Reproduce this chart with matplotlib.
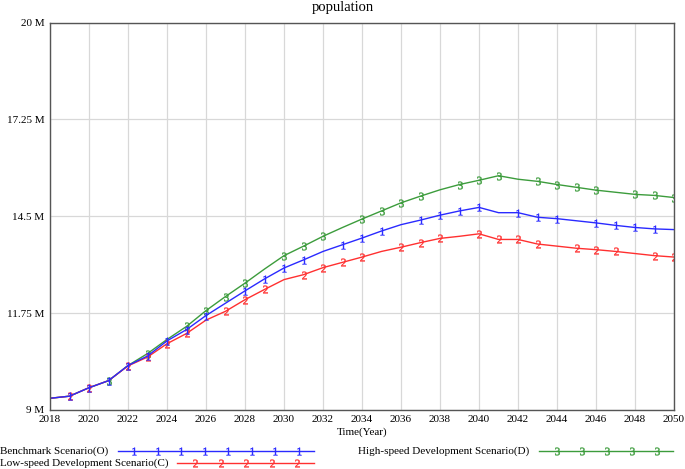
#!/usr/bin/env python3
import numpy as np
import matplotlib
matplotlib.use('Agg')
import matplotlib.pyplot as plt
from matplotlib.lines import Line2D

plt.rcParams['font.family'] = ['Liberation Serif', 'DejaVu Serif']
plt.rcParams['mathtext.fontset'] = 'custom'
plt.rcParams['mathtext.rm'] = 'Liberation Serif'

YEARS = list(range(2018, 2051))

BENCHMARK = [9.33, 9.39, 9.63, 9.83, 10.26, 10.53, 10.96, 11.28, 11.68, 12.03,
             12.38, 12.72, 13.03, 13.26, 13.50, 13.69, 13.88, 14.08, 14.26, 14.39,
             14.53, 14.65, 14.75, 14.60, 14.60, 14.47, 14.43, 14.37, 14.31, 14.24,
             14.18, 14.14, 14.12]
LOW_SPEED = [9.33, 9.39, 9.63, 9.83, 10.25, 10.50, 10.88, 11.17, 11.55, 11.80,
             12.13, 12.42, 12.70, 12.84, 13.04, 13.19, 13.34, 13.50, 13.62, 13.75,
             13.87, 13.93, 14.00, 13.84, 13.84, 13.71, 13.65, 13.59, 13.55, 13.50,
             13.44, 13.38, 13.34]
HIGH_SPEED = [9.33, 9.39, 9.63, 9.83, 10.26, 10.60, 11.00, 11.37, 11.82, 12.22,
              12.60, 13.00, 13.38, 13.65, 13.93, 14.18, 14.42, 14.65, 14.88, 15.07,
              15.25, 15.40, 15.52, 15.65, 15.55, 15.49, 15.40, 15.32, 15.24, 15.18,
              15.12, 15.09, 15.03]

# years that carry the number marks
MARK_BENCH = [2019, 2020, 2021, 2022, 2023, 2024, 2025, 2026, 2028, 2029, 2030,
              2031, 2033, 2034, 2035, 2037, 2038, 2039, 2040, 2042, 2043, 2044,
              2046, 2047, 2048, 2049]
MARK_LOW = [2019, 2020, 2022, 2023, 2024, 2025, 2027, 2028, 2029, 2031, 2032,
            2033, 2034, 2036, 2037, 2038, 2040, 2041, 2042, 2043, 2045, 2046,
            2047, 2049, 2050]
MARK_HIGH = [2021, 2023, 2025, 2026, 2027, 2028, 2030, 2031, 2032, 2034, 2035,
             2036, 2037, 2039, 2040, 2041, 2043, 2044, 2045, 2046, 2048, 2049,
             2050]

Y_TICKS = [9, 11.75, 14.5, 17.25, 20]
Y_LABELS = ['9 M', '11.75 M', '14.5 M', '17.25 M', '20 M']

BLUE = '#2a2aff'
RED = '#ff3030'
GREEN = '#3c9c3c'


def idx(marks):
    return [YEARS.index(y) for y in marks]


def run():
    fig = plt.figure(figsize=(6.85, 4.69), dpi=100)
    ax = fig.add_axes([0.073, 0.126, 0.911, 0.826])

    series = [
        (HIGH_SPEED, GREEN, '3', MARK_HIGH),
        (LOW_SPEED, RED, '2', MARK_LOW),
        (BENCHMARK, BLUE, '1', MARK_BENCH),
    ]
    for vals, col, mk, marks in series:
        ax.plot(YEARS, vals, color=col, lw=1.0,
                marker=r'$\mathregular{%s}$' % mk, markersize=5.5,
                markevery=idx(marks), markeredgewidth=0.3)

    ax.set_xlim(2018, 2050)
    ax.set_ylim(9, 20)
    ax.set_xticks(range(2018, 2051, 2))
    ax.set_yticks(Y_TICKS)
    ax.set_yticklabels(Y_LABELS)
    ax.tick_params(length=0, labelsize=8, pad=4)
    ax.grid(True, color='#d8d8d8', lw=0.9)
    ax.set_axisbelow(True)
    for s in ax.spines.values():
        s.set_color('#555555')
        s.set_linewidth(1.0)
    ax.set_xlabel('Time(Year)', fontsize=8, labelpad=2)
    fig.text(0.5, 1 - 7 / 469.0, 'population', fontsize=10.5,
             ha='center', va='center')

    # legend drawn by hand in pixel coordinates
    W, H = 685.0, 469.0
    rows = [
        ('Benchmark Scenario(O)', 0, 451, 118, 314, BLUE, '1', 8),
        ('Low-speed Development Scenario(C)', 0, 463, 177, 314, RED, '2', 5),
        ('High-speed Development Scenario(D)', 358, 451, 539, 673, GREEN, '3', 5),
    ]
    for label, tx, ty, x0, x1, col, mk, n in rows:
        fig.text(tx / W, 1 - ty / H, label, fontsize=8, va='center', ha='left')
        fig.add_artist(Line2D([x0 / W, x1 / W], [1 - ty / H, 1 - ty / H],
                              color=col, lw=1.0, transform=fig.transFigure))
        step = (x1 - x0) / (n + 0.35)
        xs = [(x0 + step * (k + 0.7)) / W for k in range(n)]
        fig.add_artist(Line2D(xs, [1 - ty / H] * n, color=col, lw=0,
                              marker=r'$\mathregular{%s}$' % mk, markersize=5.5,
                              markeredgewidth=0.3, transform=fig.transFigure))

    fig.savefig('out.png', dpi=100)


if __name__ == '__main__':
    run()
